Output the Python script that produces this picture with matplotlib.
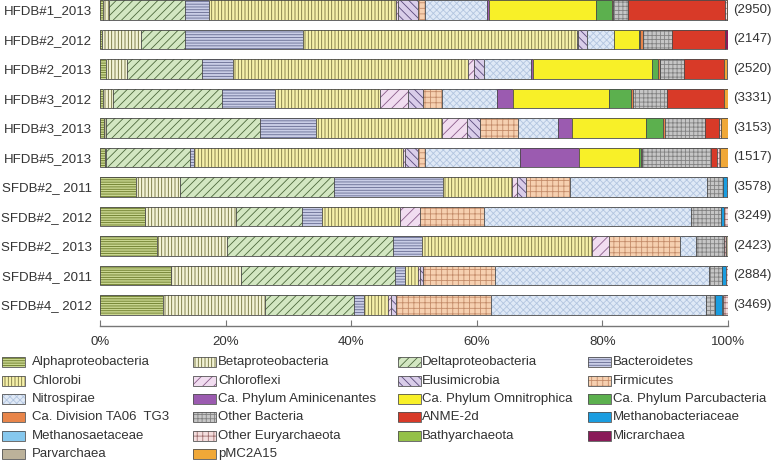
import numpy as np
import matplotlib
matplotlib.use("Agg")
import matplotlib.pyplot as plt
from matplotlib.patches import Rectangle

plt.rcParams['font.family'] = ['Liberation Sans', 'DejaVu Sans']
plt.rcParams['hatch.linewidth'] = 0.6

samples = ["HFDB#1_2013", "HFDB#2_2012", "HFDB#2_2013", "HFDB#3_2012", "HFDB#3_2013",
           "HFDB#5_2013", "SFDB#2_ 2011", "SFDB#2_ 2012", "SFDB#2_ 2013", "SFDB#4_ 2011",
           "SFDB#4_ 2012"]
counts = ["(2950)", "(2147)", "(2520)", "(3331)", "(3153)", "(1517)", "(3578)", "(3249)",
          "(2423)", "(2884)", "(3469)"]

categories = ["Alphaproteobacteria", "Betaproteobacteria", "Deltaproteobacteria", "Bacteroidetes",
              "Chlorobi", "Chloroflexi", "Elusimicrobia", "Firmicutes",
              "Nitrospirae", "Ca. Phylum Aminicenantes", "Ca. Phylum Omnitrophica", "Ca. Phylum Parcubacteria",
              "Ca. Division TA06  TG3", "Other Bacteria", "ANME-2d", "Methanobacteriaceae",
              "Methanosaetaceae", "Other Euryarchaeota", "Bathyarchaeota", "Micrarchaea",
              "Parvarchaea", "pMC2A15"]

alpha_p = [0.5, 0.3, 1.0, 0.5, 0.6, 0.8, 5.7, 7.1, 9.0, 11.3, 10.0]
beta_p = [1.0, 6.2, 3.3, 1.6, 0.3, 0.2, 7.1, 14.5, 11.3, 11.2, 16.2]
delta_p = [12.1, 7.0, 12.0, 17.4, 24.5, 13.4, 24.5, 10.6, 26.4, 24.5, 14.3]
bacteroidetes = [3.8, 18.9, 4.8, 8.3, 9.0, 0.6, 17.3, 3.2, 4.6, 1.6, 1.6]
chlorobi = [29.7, 43.5, 37.5, 16.8, 20.0, 33.3, 11.0, 12.4, 27.1, 2.0, 3.8]
chloroflexi = [0.3, 0.2, 1.0, 4.4, 4.0, 0.3, 0.8, 3.2, 2.7, 0.3, 0.5]
elusimicrobia = [3.2, 1.5, 1.5, 2.4, 2.1, 2.0, 1.5, 0.0, 0.0, 0.5, 0.7]
firmicutes = [1.2, 0.0, 0.0, 3.0, 6.0, 1.2, 6.9, 10.1, 11.3, 11.5, 15.1]
nitrospirae = [9.9, 4.3, 7.5, 8.8, 6.4, 15.0, 21.9, 33.0, 2.5, 34.1, 34.3]
aminicenantes = [0.3, 0.0, 0.3, 2.5, 2.2, 9.5, 0, 0, 0, 0, 0]
omnitrophica = [17.0, 4.0, 19.0, 15.3, 11.9, 9.6, 0, 0, 0, 0, 0]
parcubacteria = [2.5, 0.1, 1.0, 3.6, 2.7, 0.3, 0, 0, 0, 0, 0]
ta06 = [0.2, 0.4, 0.3, 0.3, 0.2, 0.1, 0, 0, 0, 0, 0]
other_bacteria = [2.4, 4.7, 3.8, 5.4, 6.4, 11.0, 2.5, 4.8, 4.5, 2.0, 1.4]
anme2d = [15.5, 8.4, 6.4, 9.1, 2.3, 1.0, 0, 0, 0, 0, 0]
methanobacteriaceae = [0, 0, 0, 0, 0, 0, 0.6, 0.5, 0, 0.7, 1.1]
methanosaetaceae = [0, 0, 0, 0, 0, 0, 0, 0, 0, 0, 0.2]
other_eury = [0.2, 0, 0, 0, 0.3, 0.5, 0.2, 0.6, 0.3, 0.3, 0.8]
bathyarchaeota = [0, 0, 0, 0, 0, 0, 0, 0, 0, 0, 0]
micrarchaea = [0, 0.5, 0, 0, 0, 0, 0, 0, 0, 0, 0]
parvarchaea = [0, 0, 0, 0, 0, 0, 0, 0, 0.3, 0, 0]
pmc2a15 = [0.3, 0, 0.5, 0.6, 1.1, 1.2, 0, 0, 0, 0, 0]

values = [alpha_p, beta_p, delta_p, bacteroidetes, chlorobi, chloroflexi, elusimicrobia,
          firmicutes, nitrospirae, aminicenantes, omnitrophica, parcubacteria, ta06,
          other_bacteria, anme2d, methanobacteriaceae, methanosaetaceae, other_eury,
          bathyarchaeota, micrarchaea, parvarchaea, pmc2a15]

# style: (face, hatch, hatch colour)
styles = [
    ("#c9d690", "-------", "#6a7a28"),
    ("#f3f3d6", "|||||", "#6e6e3a"),
    ("#d3e7c2", "////", "#4d6a3c"),
    ("#c9cde6", "------", "#676c92"),
    ("#f6f1aa", "|||||", "#7a7442"),
    ("#f1ddf0", "///", "#8a5c8a"),
    ("#d9cde9", "\\\\\\\\", "#5a4a7c"),
    ("#f6d0b0", "+++", "#c48c6a"),
    ("#dfe9f6", "xxxxx", "#b3c6e0"),
    ("#9b5bb0", None, None),
    ("#f8f028", None, None),
    ("#5cb04e", None, None),
    ("#e8854a", None, None),
    ("#c6c6c6", "++++", "#828282"),
    ("#d83a28", None, None),
    ("#1a9de0", None, None),
    ("#86c8ee", None, None),
    ("#f4dede", "+++", "#a07070"),
    ("#94c048", None, None),
    ("#8a1a58", None, None),
    ("#bcb29a", None, None),
    ("#f0a838", None, None),
]

W, H = 775, 461
fig = plt.figure(figsize=(W / 100, H / 100), dpi=100)
ax_left, ax_right = 100 / W, 728 / W
ax_top_px, ax_bot_px = 0, 326
ax = fig.add_axes([ax_left, 1 - ax_bot_px / H, ax_right - ax_left, (ax_bot_px - ax_top_px) / H])

y = np.arange(len(samples))
left = np.zeros(len(samples))
bar_h = 0.67
text_color = "#333333"
for vals, (face, hatch, hc) in zip(values, styles):
    v = np.array(vals, dtype=float)
    m = v > 0
    if m.any():
        ax.barh(y[m], v[m], left=left[m], height=bar_h, color=face,
                hatch=hatch, edgecolor=hc if hc else face, linewidth=0)
        ax.barh(y[m], v[m], left=left[m], height=bar_h, fill=False,
                edgecolor="#4a4a4a", linewidth=0.6)
    left += v

ax.set_xlim(0, 100)
ax.set_ylim(10.712, -0.339)
for s in ["top", "right", "left"]:
    ax.spines[s].set_visible(False)
ax.spines["bottom"].set_color("#777777")
ax.spines["bottom"].set_linewidth(1.0)
ax.set_xticks([0, 20, 40, 60, 80, 100])
ax.set_xticklabels(["0%", "20%", "40%", "60%", "80%", "100%"])
ax.tick_params(axis="x", direction="in", length=4, color="#777777", labelsize=9.5,
               labelcolor=text_color, pad=7)
ax.set_yticks(y)
ax.set_yticklabels(samples)
ax.tick_params(axis="y", length=0, labelsize=9.5, labelcolor=text_color, pad=6)

for yi, c in zip(y, counts):
    ax.text(100.8, yi, c, va="center", ha="left", fontsize=9.5, color=text_color, clip_on=False)

# legend laid out row-wise in 4 columns
patch_x = [2, 193, 398, 588]
text_x = [32, 218, 422, 613]
row_y = [362, 380.5, 399, 417, 435.5, 454]
pw, ph = 23, 10
for i, (name, (face, hatch, hc)) in enumerate(zip(categories, styles)):
    r, c = divmod(i, 4)
    cy = row_y[r]
    rect = Rectangle((patch_x[c] / W, 1 - (cy + ph / 2) / H), pw / W, ph / H,
                     transform=fig.transFigure, facecolor=face, hatch=hatch,
                     edgecolor=hc if hc else face, linewidth=0)
    fig.add_artist(rect)
    rect2 = Rectangle((patch_x[c] / W, 1 - (cy + ph / 2) / H), pw / W, ph / H,
                      transform=fig.transFigure, fill=False, edgecolor="#555555", linewidth=0.6)
    fig.add_artist(rect2)
    fig.text(text_x[c] / W, 1 - cy / H, name, va="center", ha="left", fontsize=9.5,
             color=text_color)

fig.savefig("out.png", dpi=100)
